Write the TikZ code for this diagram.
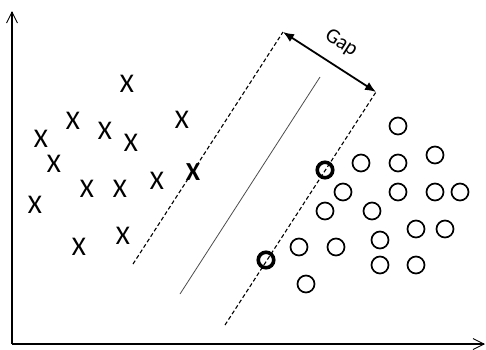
\documentclass[tikz,border=0pt]{standalone}
\usepackage{fontspec}
\setmainfont{Carlito}
\usetikzlibrary{arrows.meta}
\begin{document}
\begin{tikzpicture}[x=1pt,y=-1pt,
  xmark/.style={inner sep=0pt,font=\fontsize{27}{27}\selectfont},
  bxmark/.style={inner sep=0pt,font=\fontsize{26}{26}\selectfont\bfseries},
  omark/.style={circle,draw=black,line width=1.7pt,minimum size=17pt,inner sep=0pt},
  bomark/.style={circle,draw=black,line width=3.6pt,minimum size=15.5pt,inner sep=0pt},
  axis/.style={line width=1.1pt,-{Straight Barb[length=11pt,width=11pt,line width=0.9pt]}},
  margin/.style={line width=1.1pt,dash pattern=on 4pt off 2.5pt},
  gaparrow/.style={line width=1.8pt,{Latex[length=11pt,width=9pt]}-{Latex[length=11pt,width=9pt]}}]
\useasboundingbox (0,0) rectangle (486,349);
% axes
\coordinate (o) at (12,344);
\coordinate (ytop) at (12,11);
\coordinate (xend) at (485,344);
\draw[axis] (o) -- (ytop);
\draw[axis] (o) -- (xend);
% x marks
\node[xmark] (x1) at (127,84) {X};
\node[xmark] (x2) at (73,121) {X};
\node[xmark] (x3) at (105,131) {X};
\node[xmark] (x4) at (131,143) {X};
\node[xmark] (x5) at (41,139) {X};
\node[xmark] (x6) at (182,120) {X};
\node[xmark] (x7) at (54,164) {X};
\node[xmark] (x8) at (87,189) {X};
\node[xmark] (x9) at (120,189) {X};
\node[xmark] (x10) at (157,181) {X};
\node[xmark] (x11) at (35,205) {X};
\node[xmark] (x12) at (79,247) {X};
\node[xmark] (x13) at (123,236) {X};
\node[bxmark] (xb) at (193,172) {X};
% o marks
\node[omark] (c1) at (398,126) {};
\node[omark] (c2) at (435,155) {};
\node[omark] (c3) at (398,163) {};
\node[omark] (c4) at (361,163) {};
\node[omark] (c5) at (343,192) {};
\node[omark] (c6) at (398,192) {};
\node[omark] (c7) at (435,192) {};
\node[omark] (c8) at (460,192) {};
\node[omark] (c9) at (325,211) {};
\node[omark] (c10) at (372,211) {};
\node[omark] (c11) at (416,229) {};
\node[omark] (c12) at (445,229) {};
\node[omark] (c13) at (299,247) {};
\node[omark] (c14) at (336,247) {};
\node[omark] (c15) at (380,240) {};
\node[omark] (c16) at (380,265) {};
\node[omark] (c17) at (416,265) {};
\node[omark] (c18) at (306,284) {};
\node[bomark] (cb1) at (325,170) {};
\node[bomark] (cb2) at (266,260) {};
% margins and separator
\coordinate (l1) at (133,264);
\coordinate (l2) at (283,32);
\coordinate (r1) at (225,325);
\coordinate (r2) at (376,92);
\coordinate (s1) at (180,294);
\coordinate (s2) at (320,77);
\draw[margin] (l1) -- (l2);
\draw[margin] (r1) -- (r2);
\draw[line width=0.8pt,black!70] (s1) -- (s2);
\draw[gaparrow] (l2) -- (r2);
\node[rotate=-32.8,inner sep=0pt,font=\fontsize{21}{21}\selectfont] (gap) at (341,43) {Gap};
\end{tikzpicture}
\end{document}
